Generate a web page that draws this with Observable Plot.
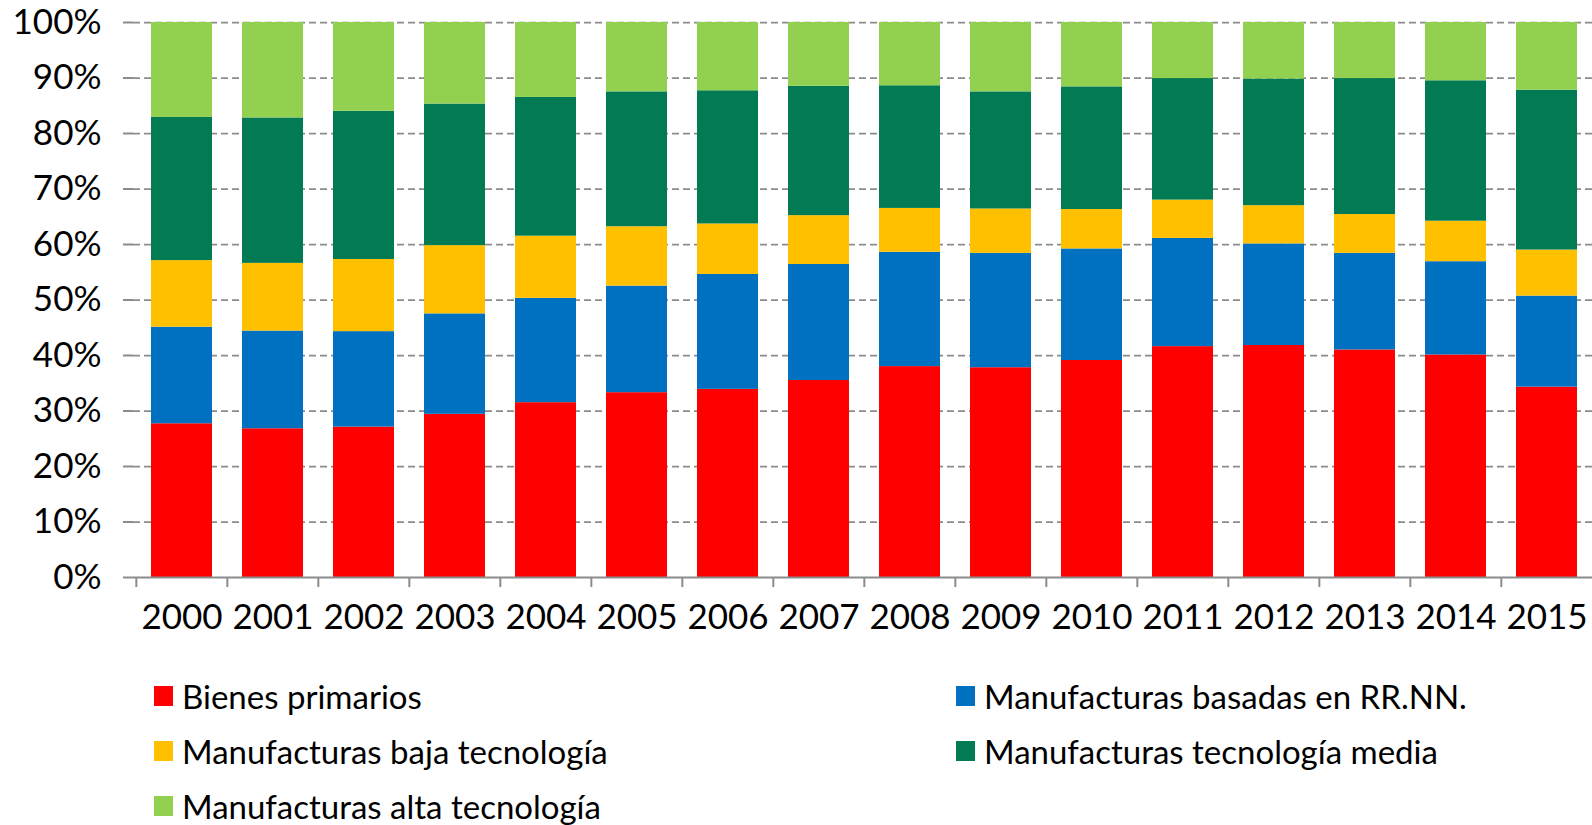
<!DOCTYPE html>
<html>
<head>
<meta charset="utf-8">
<script src="https://cdn.jsdelivr.net/npm/d3@7"></script>
<script src="https://cdn.jsdelivr.net/npm/@observablehq/plot@0.6"></script>
<style>
  html, body { margin: 0; padding: 0; background: #fff; }
  body { width: 1592px; height: 825px; position: relative; overflow: hidden; font-family: Lato, "Open Sans", sans-serif; }
  #chart { position: absolute; left: 0; top: 0; }
  #legend { position: absolute; left: 0; top: 668px; width: 1592px; }
  .item { position: absolute; display: flex; align-items: center; height: 56px; font-size: 33px; line-height: 1.1; color: #000; white-space: nowrap; }
  .sw { width: 19px; height: 20px; margin-right: 9px; flex: none; }
</style>
</head>
<body>
<div id="chart"></div>
<div id="legend"></div>
<script>
const years = ["2000","2001","2002","2003","2004","2005","2006","2007","2008","2009","2010","2011","2012","2013","2014","2015"];
const seriesNames = ["Bienes primarios","Manufacturas basadas en RR.NN.","Manufacturas baja tecnología","Manufacturas tecnología media","Manufacturas alta tecnología"];
const seriesColors = ["#FF0000","#0070C0","#FFC000","#027B55","#92D050"];
const bienesPrimarios = [27.7,26.8,27.1,29.4,31.5,33.3,33.9,35.5,38.0,37.8,39.1,41.6,41.8,41.0,40.1,34.3];
const manufRRNN       = [17.4,17.6,17.2,18.1,18.8,19.2,20.7,20.9,20.6,20.6,20.1,19.5,18.3,17.4,16.8,16.4];
const manufBaja       = [12.0,12.2,13.0,12.3,11.2,10.7, 9.1, 8.8, 7.9, 8.0, 7.1, 6.9, 6.9, 7.0, 7.3, 8.3];
const manufMedia      = [25.8,26.2,26.7,25.5,25.0,24.3,24.0,23.3,22.1,21.1,22.1,21.9,22.8,24.5,25.3,28.8];
const manufAlta       = [17.1,17.2,16.0,14.7,13.5,12.5,12.3,11.5,11.4,12.5,11.6,10.1,10.2,10.1,10.5,12.2];
const yTicks = [0,10,20,30,40,50,60,70,80,90,100];

const seriesValues = [bienesPrimarios, manufRRNN, manufBaja, manufMedia, manufAlta];
const data = [];
seriesNames.forEach((s, i) => years.forEach((y, j) => data.push({year: y, series: s, value: seriesValues[i][j]})));

const W = 1592, H = 650, ML = 133, MR = -2, MT = 22, MB = 73;
const step = (W - ML - MR) / years.length;
const gray = "#8c8c8c";

const chart = Plot.plot({
  width: W, height: H,
  marginLeft: ML, marginRight: MR, marginTop: MT, marginBottom: MB,
  style: {fontFamily: "Lato, 'Open Sans', sans-serif", color: "#000", background: "#fff", overflow: "hidden"},
  x: {domain: years, paddingInner: 0.33, paddingOuter: 0.165, label: null, axis: null},
  y: {domain: [0, 100], label: null, axis: null},
  color: {domain: seriesNames, range: seriesColors},
  marks: [
    Plot.ruleY(yTicks.filter(d => d > 0), {stroke: gray, strokeWidth: 1.75, strokeDasharray: "7,4"}),
    Plot.barY(data, {x: "year", y: "value", fill: "series"}),
    Plot.ruleY([0], {stroke: gray, strokeWidth: 2}),
    Plot.axisY({ticks: yTicks, tickSize: 10, tickPadding: 22, tickFormat: d => d + "%", fontSize: 35, stroke: gray, strokeWidth: 2, fill: "#000", line: true, label: null}),
    Plot.axisX({tickSize: 0, tickPadding: 27, fontSize: 35, fill: "#000", label: null}),
    Plot.axisX({tickSize: 10, tickFormat: () => "", dx: -step / 2, stroke: gray, strokeWidth: 2, label: null})
  ]
});
document.getElementById("chart").appendChild(chart);

const legend = document.getElementById("legend");
const pos = [[154, 0], [956, 0], [154, 1], [956, 1], [154, 2]];
seriesNames.forEach((s, i) => {
  const it = document.createElement("div");
  it.className = "item";
  it.style.left = pos[i][0] + "px";
  it.style.top = (pos[i][1] * 55) + "px";
  const sw = document.createElement("span");
  sw.className = "sw";
  sw.style.background = seriesColors[i];
  it.appendChild(sw);
  it.appendChild(document.createTextNode(s));
  legend.appendChild(it);
});
</script>
</body>
</html>
